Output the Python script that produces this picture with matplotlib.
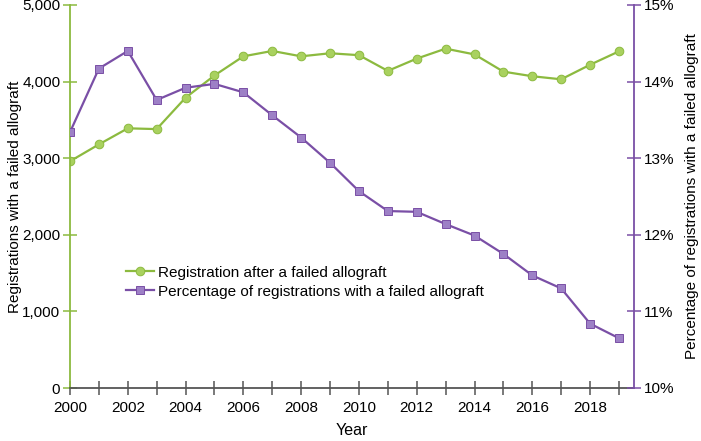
import numpy as np
import matplotlib.pyplot as plt
from matplotlib.ticker import FuncFormatter

plt.rcParams['font.family'] = ['Liberation Sans', 'DejaVu Sans']

# ----------------------------------------------------------------------
# Data
# ----------------------------------------------------------------------
years = np.arange(2000, 2020)
registrations = [2960, 3180, 3390, 3380, 3790, 4080, 4330, 4400, 4330, 4370,
                 4345, 4140, 4300, 4430, 4355, 4130, 4070, 4030, 4220, 4395]
pct_failed = [13.34, 14.17, 14.40, 13.76, 13.92, 13.97, 13.86, 13.56, 13.27, 12.94,
              12.57, 12.31, 12.30, 12.14, 11.99, 11.75, 11.47, 11.30, 10.84, 10.65]

green_line = '#8cba3f'
green_face = '#a9d15f'
purple_line = '#7a4fa6'
purple_face = '#9d80c6'
axis_gray = '#555555'

fig = plt.figure(figsize=(7.01, 4.41), dpi=100)
ax = fig.add_axes([70/701, 53/441, 564/701, 383/441])
ax2 = ax.twinx()

l1, = ax.plot(years, registrations, color=green_line, lw=1.6, marker='o', ms=6.2,
              mfc=green_face, mec=green_line, mew=0.7,
              label='Registration after a failed allograft')
l2, = ax2.plot(years, pct_failed, color=purple_line, lw=1.6, marker='s', ms=5.4,
               mfc=purple_face, mec=purple_line, mew=0.7,
               label='Percentage of registrations with a failed allograft')

ax.set_xlim(2000, 2019.52)
ax.set_ylim(0, 5000)
ax2.set_ylim(10, 15)

ax.set_xticks(np.arange(2000, 2020))
ax.set_xticklabels([str(y) if y % 2 == 0 else '' for y in range(2000, 2020)])
ax.set_yticks(np.arange(0, 5001, 1000))
ax.yaxis.set_major_formatter(FuncFormatter(lambda v, p: f'{int(v):,}'))
ax2.set_yticks(np.arange(10, 16, 1))
ax2.yaxis.set_major_formatter(FuncFormatter(lambda v, p: f'{int(v)}%'))

for a in (ax, ax2):
    a.spines['top'].set_visible(False)
ax.spines['left'].set_color(green_line)
ax.spines['left'].set_linewidth(1.3)
ax.spines['right'].set_visible(False)
ax2.spines['left'].set_visible(False)
ax2.spines['bottom'].set_visible(False)
ax2.spines['right'].set_color(purple_line)
ax2.spines['right'].set_linewidth(1.3)
ax.spines['bottom'].set_color(axis_gray)
ax.spines['bottom'].set_linewidth(1.3)

ax.tick_params(axis='x', direction='inout', length=10, width=1.1, color=axis_gray,
               labelsize=11, pad=4)
ax.tick_params(axis='y', direction='inout', length=10, width=1.1, color=green_line,
               labelsize=11, pad=2)
ax2.tick_params(axis='y', direction='inout', length=10, width=1.1, color=purple_line,
                labelsize=11, pad=2)

ax.set_xlabel('Year', fontsize=11.5)
ax.set_ylabel('Registrations with a failed allograft', fontsize=11)
ax2.set_ylabel('Percentage of registrations with a failed allograft', fontsize=11)
ax.xaxis.set_label_coords(0.5, -0.092)
ax.yaxis.set_label_coords(-0.085, 0.5)
ax2.yaxis.set_label_coords(1.09, 0.5)

ax.legend(handles=[l1, l2], loc='upper left', bbox_to_anchor=(0.089, 0.335),
          frameon=False, fontsize=11, handlelength=1.8, handletextpad=0.3,
          labelspacing=0.32, borderaxespad=0)

fig.savefig('out.png', dpi=100)
